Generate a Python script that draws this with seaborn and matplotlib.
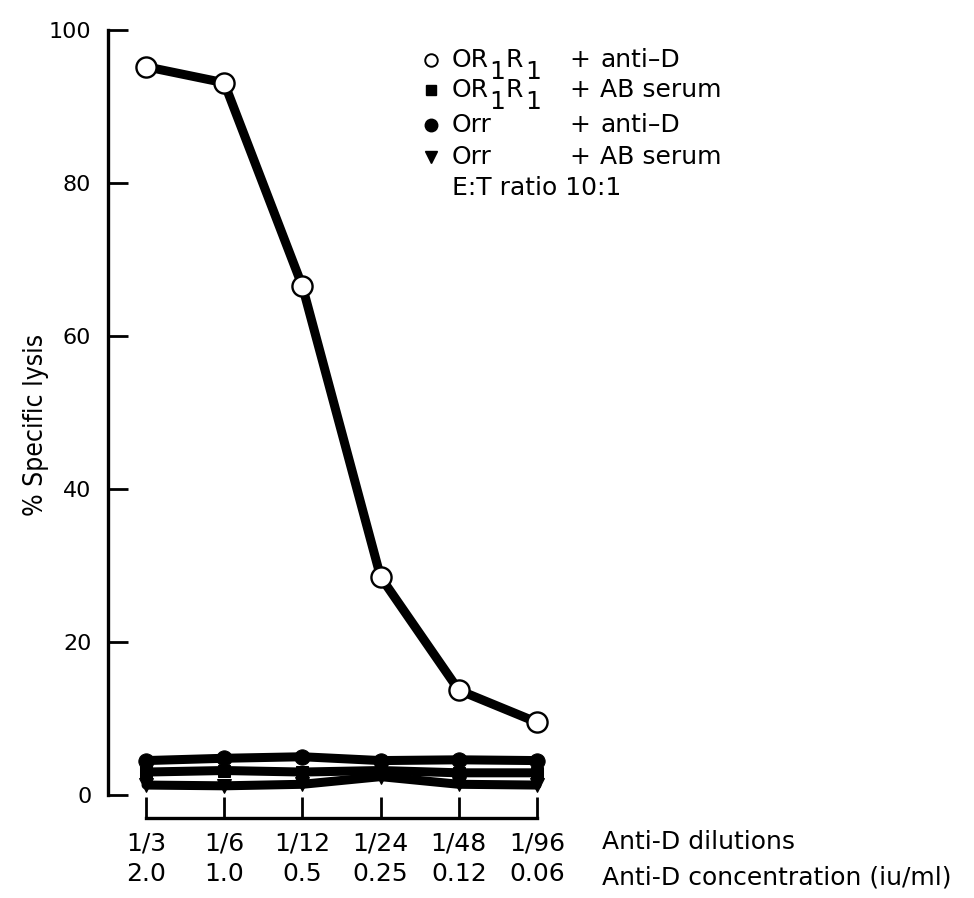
import matplotlib
matplotlib.use("Agg")
import matplotlib.pyplot as plt
from matplotlib.lines import Line2D
import seaborn as sns
import pandas as pd

# Dilution series (x categories) and the two label rows shown under the axis
dilutions = ["1/3", "1/6", "1/12", "1/24", "1/48", "1/96"]
concentrations = ["2.0", "1.0", "0.5", "0.25", "0.12", "0.06"]

# % specific lysis for each target cell / serum combination
or1r1_anti_d = [95.2, 93.1, 66.5, 28.5, 13.7, 9.5]
or1r1_ab_serum = [3.0, 3.2, 3.0, 3.2, 2.9, 2.9]
orr_anti_d = [4.5, 4.8, 5.0, 4.5, 4.6, 4.5]
orr_ab_serum = [1.3, 1.2, 1.4, 2.4, 1.4, 1.3]

W, H = 974, 898
DPI = 100

sns.set_theme(style="white")
plt.rcParams["font.family"] = ["DejaVu Sans"]
plt.rcParams["mathtext.fontset"] = "dejavusans"
plt.rcParams["text.color"] = "black"
plt.rcParams["axes.labelcolor"] = "black"

fig = plt.figure(figsize=(W / DPI, H / DPI), dpi=DPI)
fig.patch.set_facecolor("white")


def px(x, y):
    """Pixel position (from top-left) to figure fraction."""
    return x / W, 1 - y / H


xpos = list(range(len(dilutions)))
df = pd.DataFrame({
    "x": xpos * 4,
    "lysis": or1r1_ab_serum + orr_anti_d + orr_ab_serum + or1r1_anti_d,
    "series": (["or1r1_ab"] * 6 + ["orr_anti"] * 6 + ["orr_ab"] * 6
               + ["or1r1_anti"] * 6),
})

# axes placed so that 0..100 runs along the left spine
y_lo, y_hi = -3.5, 101.0
x_lo, x_hi = -0.486, 5.4
ax_left, ax_right = 108, 568.3
ax_top = 795 - y_hi * 7.65
ax_bot = 795 - y_lo * 7.65
ax = fig.add_axes([ax_left / W, 1 - ax_bot / H,
                   (ax_right - ax_left) / W, (ax_bot - ax_top) / H])
ax.set_facecolor("white")

styles = {
    "orr_ab": dict(marker="v", markersize=10, markerfacecolor="black",
                   markeredgecolor="black", lw=6.5, zorder=3),
    "or1r1_ab": dict(marker="s", markersize=9, markerfacecolor="black",
                     markeredgecolor="black", lw=6.5, zorder=4),
    "orr_anti": dict(marker="o", markersize=11, markerfacecolor="black",
                     markeredgecolor="black", lw=6.5, zorder=5),
    "or1r1_anti": dict(marker="o", markersize=14.5, markerfacecolor="white",
                       markeredgecolor="black", markeredgewidth=1.7,
                       lw=6.5, zorder=6),
}
for key in ["orr_ab", "or1r1_ab", "orr_anti", "or1r1_anti"]:
    sub = df[df["series"] == key]
    sns.lineplot(data=sub, x="x", y="lysis", ax=ax, color="black",
                 clip_on=False, legend=False, **styles[key])

ax.set_xlim(x_lo, x_hi)
ax.set_ylim(y_lo, y_hi)

for s in ["top", "right"]:
    ax.spines[s].set_visible(False)
ax.spines["left"].set_bounds(0, 100)
ax.spines["left"].set_linewidth(2.4)
ax.spines["left"].set_color("black")
ax.spines["bottom"].set_position(("data", -3.0))
ax.spines["bottom"].set_bounds(0, 5)
ax.spines["bottom"].set_linewidth(2.4)
ax.spines["bottom"].set_color("black")

ax.set_yticks([0, 20, 40, 60, 80, 100])
ax.set_yticklabels(["0", "20", "40", "60", "80", "100"])
ax.tick_params(axis="y", direction="in", length=14.5, width=2.0,
               color="black", pad=12, labelsize=16, labelcolor="black",
               left=True)
ax.set_xticks(xpos)
ax.set_xticklabels([f"{d}\n{c}" for d, c in zip(dilutions, concentrations)])
ax.tick_params(axis="x", direction="in", length=15, width=2.0,
               color="black", pad=10, labelsize=18, labelcolor="black",
               bottom=True)
for t in ax.get_xticklabels():
    t.set_linespacing(1.35)

ax.set_xlabel("")
ax.set_ylabel("")
ax.grid(False)

fig.text(*px(36, 425), "% Specific lysis", rotation=90, fontsize=19,
         ha="center", va="center", fontstretch="condensed")

fig.text(*px(602, 842), "Anti-D dilutions", fontsize=18, ha="left",
         va="center")
fig.text(*px(602, 877), "Anti-D concentration (iu/ml)", fontsize=18,
         ha="left", va="center")

# key in the upper part of the plot
key_rows = [
    (60, dict(marker="o", markersize=9, markerfacecolor="white",
              markeredgecolor="black", markeredgewidth=1.4),
     True, "anti\u2013D"),
    (90, dict(marker="s", markersize=7, markerfacecolor="black",
              markeredgecolor="black"),
     True, "AB serum"),
    (125, dict(marker="o", markersize=9, markerfacecolor="black",
               markeredgecolor="black"),
     False, "anti\u2013D"),
    (157, dict(marker="v", markersize=9, markerfacecolor="black",
               markeredgecolor="black"),
     False, "AB serum"),
]
for y, mk, rh_pos, serum in key_rows:
    mx, my = px(431, y)
    fig.add_artist(Line2D([mx], [my], transform=fig.transFigure,
                          linestyle="none", **mk))
    if rh_pos:
        # OR1R1 written with full-size, lowered subscripts
        fig.text(*px(452, y), "OR", fontsize=18, ha="left", va="center")
        fig.text(*px(497, y + 12), "1", fontsize=18, ha="center",
                 va="center")
        fig.text(*px(505, y), "R", fontsize=18, ha="left", va="center")
        fig.text(*px(533, y + 12), "1", fontsize=18, ha="center",
                 va="center")
    else:
        fig.text(*px(452, y), "Orr", fontsize=18, ha="left", va="center")
    fig.text(*px(580, y), "+", fontsize=18, ha="center", va="center")
    fig.text(*px(600, y), serum, fontsize=18, ha="left", va="center")
fig.text(*px(452, 188), "E:T ratio 10:1", fontsize=18, ha="left",
         va="center")

fig.savefig("out.png", dpi=DPI, facecolor="white")
